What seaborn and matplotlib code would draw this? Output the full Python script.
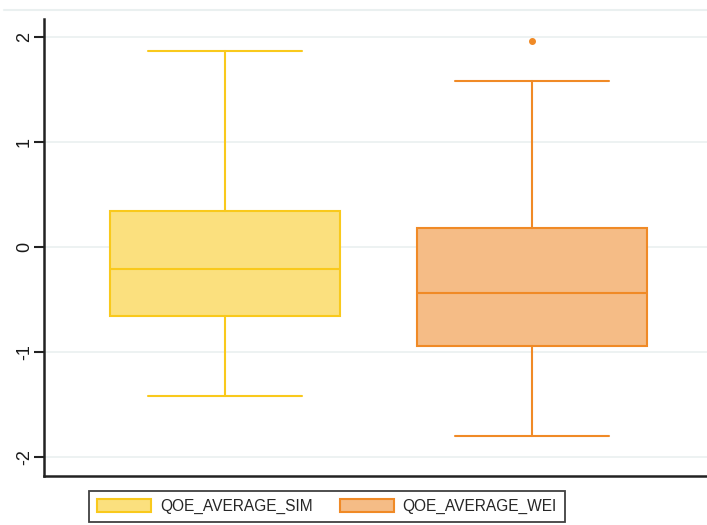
import numpy as np
import pandas as pd
import matplotlib
matplotlib.use("Agg")
import matplotlib.pyplot as plt
from matplotlib.patches import Patch
from matplotlib.lines import Line2D
import seaborn as sns

# summary values
labels = ["QOE_AVERAGE_SIM", "QOE_AVERAGE_WEI"]
whisker_low = [-1.42, -1.80]
q1 = [-0.66, -0.94]
median = [-0.21, -0.44]
q3 = [0.34, 0.18]
whisker_high = [1.87, 1.58]
outliers = [[], [1.96]]

fills = ["#FBE07E", "#F5BC86"]
edges = ["#F9C91C", "#F08A26"]

sns.set_style("white")
plt.rcParams['font.family'] = ['Liberation Sans', 'DejaVu Sans']
plt.rcParams['axes.unicode_minus'] = False

fig = plt.figure(figsize=(7.07, 5.25), dpi=100)
ax = fig.add_axes([44 / 707, 49 / 525, 663 / 707, 457 / 525])

stats = pd.DataFrame({"label": labels, "whislo": whisker_low, "q1": q1,
                      "med": median, "q3": q3, "whishi": whisker_high})
for i, row in stats.iterrows():
    s = row.to_dict()
    s["fliers"] = np.array(outliers[i])
    ax.bxp([s], positions=[i], widths=0.75, patch_artist=True,
           showfliers=True,
           boxprops=dict(facecolor=fills[i], edgecolor=edges[i], linewidth=1.5),
           medianprops=dict(color=edges[i], linewidth=1.5),
           whiskerprops=dict(color=edges[i], linewidth=1.5),
           capprops=dict(color=edges[i], linewidth=1.5),
           capwidths=0.5,
           flierprops=dict(marker="o", markerfacecolor=edges[i],
                           markeredgecolor=edges[i], markersize=4))

ax.set_xlim(-0.59, 1.57)
ax.set_ylim(-2.18, 2.17)
ax.set_yticks([-2, -1, 0, 1, 2])
ax.set_yticklabels(["-2", "-1", "0", "1", "2"], rotation=90, va="center",
                   fontsize=13, color="#1a1a1a")
ax.set_xticks([])
ax.grid(axis="y", color="#EAF0F0", linewidth=1.2)
ax.set_axisbelow(True)
ax.tick_params(axis="y", left=True, length=7, width=1.5, color="#222222", pad=1)

for side in ["top", "right"]:
    ax.spines[side].set_visible(False)
for side in ["left", "bottom"]:
    ax.spines[side].set_color("#222222")
    ax.spines[side].set_linewidth(1.8)

# faint outer frame line across the top
fig.add_artist(Line2D([4 / 707, 1], [1 - 10 / 525, 1 - 10 / 525],
                      color="#EAF0F0", linewidth=1.5))

handles = [Patch(facecolor=fills[i], edgecolor=edges[i], linewidth=1.5, label=labels[i])
           for i in range(2)]
leg = fig.legend(handles=handles, loc="lower left", bbox_to_anchor=(89 / 707, 3 / 525),
                 ncol=2, fontsize=11.2, frameon=True, fancybox=False,
                 handlelength=3.5, handleheight=0.95, handletextpad=0.55,
                 columnspacing=1.75, borderpad=0.5, borderaxespad=0)
leg.get_frame().set_edgecolor("#111111")
leg.get_frame().set_linewidth(1.3)

fig.savefig("out.png", dpi=100)
